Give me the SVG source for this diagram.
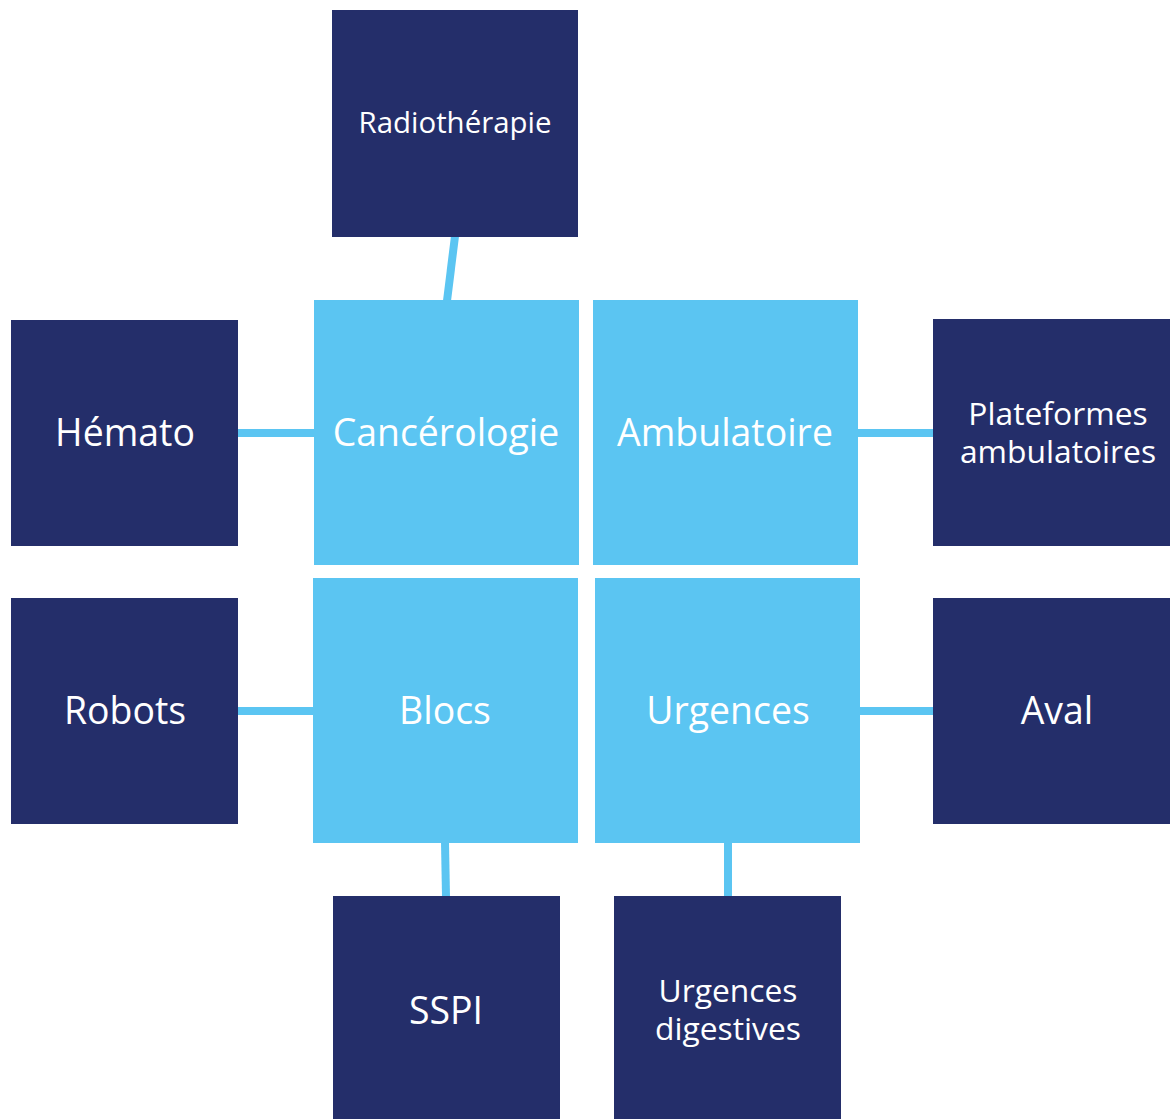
<svg xmlns="http://www.w3.org/2000/svg" width="1170" height="1119" viewBox="0 0 1170 1119">
<style>
.dark{fill:#242E6A}
.light{fill:#5BC5F2}
text{fill:#FFFFFF;font-family:"Open Sans","Noto Sans","Liberation Sans",sans-serif;text-anchor:middle}
.big{font-size:37.4px}
.mid{font-size:31.8px}
.small{font-size:29.4px}
.conn{stroke:#5BC5F2;stroke-width:8;fill:none}
</style>
<rect width="1170" height="1119" fill="#FFFFFF"/>
<g id="connectors">
<line class="conn" x1="455" y1="236" x2="447" y2="301"/>
<line class="conn" x1="237" y1="433" x2="315" y2="433"/>
<line class="conn" x1="857" y1="433" x2="934" y2="433"/>
<line class="conn" x1="237" y1="711" x2="314" y2="711"/>
<line class="conn" x1="859" y1="711" x2="934" y2="711"/>
<line class="conn" x1="445" y1="842" x2="446" y2="897"/>
<line class="conn" x1="728" y1="842" x2="728" y2="897"/>
</g>
<g id="radiotherapie"><rect class="dark" x="332" y="10" width="246" height="227"/><text class="small" x="455" y="133">Radiothérapie</text></g>
<g id="cancerologie"><rect class="light" x="314" y="300" width="265" height="265"/><text class="big" x="446" y="446">Cancérologie</text></g>
<g id="ambulatoire"><rect class="light" x="593" y="300" width="265" height="265"/><text class="big" x="725" y="446">Ambulatoire</text></g>
<g id="blocs"><rect class="light" x="313" y="578" width="265" height="265"/><text class="big" x="445" y="724">Blocs</text></g>
<g id="urgences"><rect class="light" x="595" y="578" width="265" height="265"/><text class="big" x="728" y="724">Urgences</text></g>
<g id="hemato"><rect class="dark" x="11" y="320" width="227" height="226"/><text class="big" x="125" y="446">Hémato</text></g>
<g id="plateformes"><rect class="dark" x="933" y="319" width="237" height="227"/><text class="mid" x="1058" y="425">Plateformes</text><text class="mid" x="1058" y="463">ambulatoires</text></g>
<g id="robots"><rect class="dark" x="11" y="598" width="227" height="226"/><text class="big" x="125" y="724">Robots</text></g>
<g id="aval"><rect class="dark" x="933" y="598" width="237" height="226"/><text class="big" x="1057" y="724">Aval</text></g>
<g id="sspi"><rect class="dark" x="333" y="896" width="227" height="223"/><text class="big" x="446" y="1024">SSPI</text></g>
<g id="urgences-digestives"><rect class="dark" x="614" y="896" width="227" height="223"/><text class="mid" x="728" y="1002">Urgences</text><text class="mid" x="728" y="1040">digestives</text></g>
</svg>
